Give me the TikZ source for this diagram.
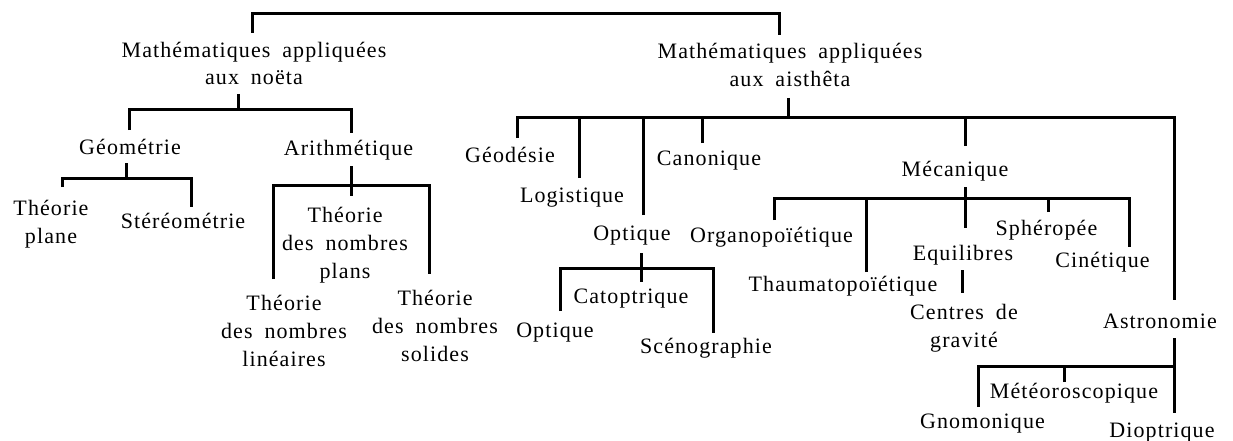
\documentclass[tikz,border=0pt]{standalone}
\usepackage{fontspec}
\setmainfont{Liberation Serif}[LetterSpace=5,WordSpace=1.8]
\begin{document}
\begin{tikzpicture}[x=1pt,y=-1pt,
  lbl/.style={anchor=base,inner sep=0pt,align=center,font=\fontsize{22}{28}\selectfont},
  br/.style={line width=3pt,line join=miter,line cap=butt}]
\useasboundingbox (0,0) rectangle (1233,441);
% text nodes (anchored at the baseline of their last line)
\node[lbl] (m1) at (254,85) {Mathématiques appliquées\\aux noëta};
\node[lbl] (m2) at (790,87) {Mathématiques appliquées\\aux aisthêta};
\node[lbl] (geom) at (130,154) {Géométrie};
\node[lbl] (arith) at (348.5,155) {Arithmétique};
\node[lbl] (tp) at (51,243) {Théorie\\plane};
\node[lbl] (stereo) at (183,228) {Stéréométrie};
\node[lbl] (tnp) at (345,278) {Théorie\\des nombres\\plans};
\node[lbl] (tnl) at (284,366) {Théorie\\des nombres\\linéaires};
\node[lbl] (tns) at (435,361) {Théorie\\des nombres\\solides};
\node[lbl] (geod) at (510,162) {Géodésie};
\node[lbl] (logi) at (572,202) {Logistique};
\node[lbl] (opt) at (632,240) {Optique};
\node[lbl] (cano) at (709,165) {Canonique};
\node[lbl] (meca) at (955,176) {Mécanique};
\node[lbl] (organo) at (771.5,242) {Organopoïétique};
\node[lbl] (thauma) at (843,291) {Thaumatopoïétique};
\node[lbl] (equi) at (963,260) {Equilibres};
\node[lbl] (sphero) at (1046.5,235) {Sphéropée};
\node[lbl] (cine) at (1102.5,267) {Cinétique};
\node[lbl] (centres) at (964,347) {Centres de\\gravité};
\node[lbl] (astro) at (1160,328) {Astronomie};
\node[lbl] (catop) at (631,303) {Catoptrique};
\node[lbl] (opt2) at (555,337) {Optique};
\node[lbl] (sceno) at (706,353) {Scénographie};
\node[lbl] (meteo) at (1074,398) {Météoroscopique};
\node[lbl] (gnomo) at (982.5,428) {Gnomonique};
\node[lbl] (diop) at (1162,437) {Dioptrique};
% connector end points
\coordinate (m1t) at (252,33);
\coordinate (m2t) at (779,35);
\coordinate (m1b) at (238,94);
\coordinate (geomt) at (129,130);
\coordinate (aritht) at (351,133);
\coordinate (geomb) at (126,163);
\coordinate (tpt) at (62,187);
\coordinate (stereot) at (191,207);
\coordinate (arithb) at (351,166);
\coordinate (tnpt) at (351,196);
\coordinate (tnlt) at (273,279);
\coordinate (tnst) at (429,274);
\coordinate (m2b) at (788,98);
\coordinate (geodt) at (517,138);
\coordinate (logit) at (579,178);
\coordinate (optt) at (643,215);
\coordinate (canot) at (702,143);
\coordinate (mecat) at (965,146);
\coordinate (astrot) at (1174,300);
\coordinate (optb) at (641,253);
\coordinate (catopt) at (641,282);
\coordinate (opt2t) at (560,311);
\coordinate (scenot) at (713,333);
\coordinate (mecab) at (965,187);
\coordinate (equit) at (965,228);
\coordinate (organot) at (774,220);
\coordinate (thaumat) at (866,272);
\coordinate (spherot) at (1048,212);
\coordinate (cinet) at (1129,247);
\coordinate (equib) at (962,270);
\coordinate (centrest) at (962,293);
\coordinate (astrob) at (1174,338);
\coordinate (diopt) at (1174,413);
\coordinate (gnomot) at (978,407);
\coordinate (meteot) at (1064,382);
% brackets
\draw[br] (m1t) |- (m2t |- 0,14) -- (m2t);
\draw[br] (m1b) -- (m1b |- 0,110);
\draw[br] (geomt) |- (aritht |- 0,110) -- (aritht);
\draw[br] (geomb) -- (geomb |- 0,178);
\draw[br] (tpt) |- (stereot |- 0,178) -- (stereot);
\draw[br] (arithb) -- (tnpt);
\draw[br] (tnlt) |- (tnst |- 0,185) -- (tnst);
\draw[br] (m2b) -- (m2b |- 0,118);
\draw[br] (geodt) |- (astrot |- 0,118) -- (astrot);
\draw[br] (logit) -- (logit |- 0,118);
\draw[br] (optt) -- (optt |- 0,118);
\draw[br] (canot) -- (canot |- 0,118);
\draw[br] (mecat) -- (mecat |- 0,118);
\draw[br] (optb) -- (catopt);
\draw[br] (opt2t) |- (scenot |- 0,268) -- (scenot);
\draw[br] (mecab) -- (equit);
\draw[br] (organot) |- (cinet |- 0,198) -- (cinet);
\draw[br] (thaumat) -- (thaumat |- 0,198);
\draw[br] (spherot) -- (spherot |- 0,198);
\draw[br] (equib) -- (centrest);
\draw[br] (astrob) -- (diopt);
\draw[br] (gnomot) |- (astrob |- 0,366);
\draw[br] (meteot) -- (meteot |- 0,366);
\end{tikzpicture}
\end{document}
